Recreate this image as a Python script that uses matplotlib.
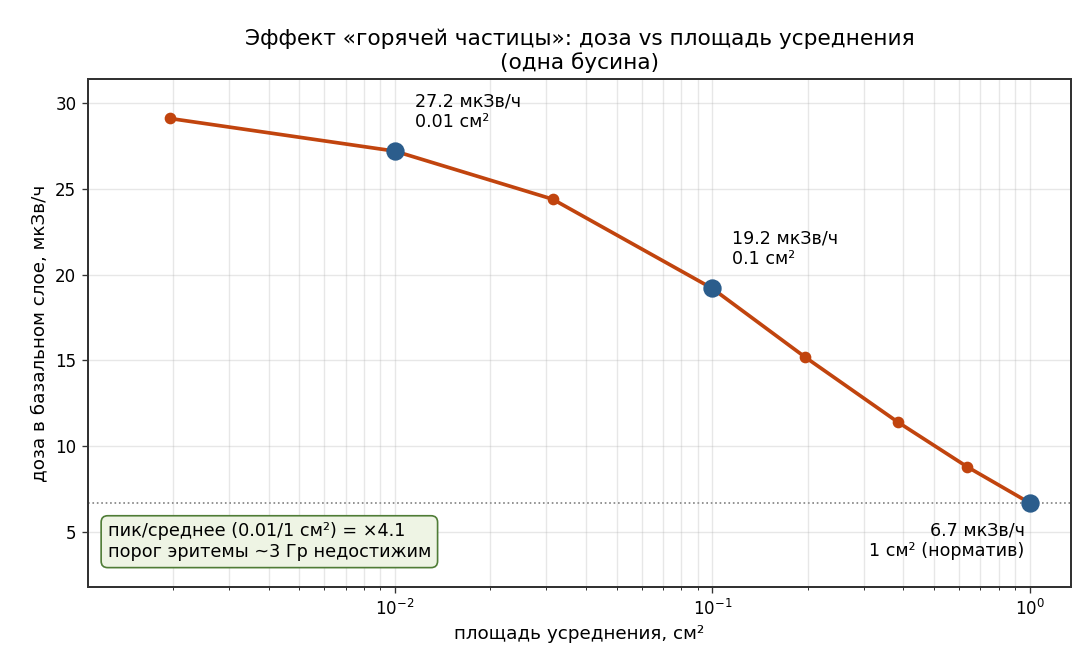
import numpy as np
import matplotlib
matplotlib.use('Agg')
import matplotlib.pyplot as plt

plt.rcParams['font.family'] = ['DejaVu Sans']

# Dose vs averaging area (single bead)
area_cm2 = [0.00196, 0.01, 0.0314, 0.1, 0.196, 0.385, 0.636, 1.0]
dose_usv = [29.1, 27.2, 24.4, 19.2, 15.2, 11.4, 8.8, 6.7]

key_area = [0.01, 0.1, 1.0]
key_dose = [27.2, 19.2, 6.7]
key_labels = ["27.2 мкЗв/ч\n0.01 см²", "19.2 мкЗв/ч\n0.1 см²", "6.7 мкЗв/ч\n1 см² (норматив)"]

line_color = '#c1440e'
key_color = '#2b5d8c'

fig, ax = plt.subplots(figsize=(9.1, 5.6), dpi=120)
fig.subplots_adjust(left=0.0806, right=0.9808, top=0.8824, bottom=0.1265)

ax.plot(area_cm2, dose_usv, '-o', color=line_color, lw=2.2, ms=6, zorder=3)
ax.plot(key_area, key_dose, 'o', color=key_color, ms=10, zorder=4)
ax.axhline(key_dose[-1], color='gray', ls=':', lw=1.0, zorder=1)

ax.set_xscale('log')
ax.set_xlim(1.08e-3, 1.35)
ax.set_ylim(1.8, 31.4)
ax.grid(True, which='both', alpha=0.3)
for s in ax.spines.values():
    s.set_color('#333333')
    s.set_linewidth(1.2)
ax.tick_params(which='both', color='#333333')

offsets = [(12, 12), (12, 12), (-3, -11)]
aligns = [('left', 'bottom'), ('left', 'bottom'), ('right', 'top')]
for x, y, lab, off, (ha, va) in zip(key_area, key_dose, key_labels, offsets, aligns):
    ax.annotate(lab, (x, y), xytext=off, textcoords='offset points',
                ha=ha, va=va, fontsize=10.5)

ax.text(0.02, 0.051, "пик/среднее (0.01/1 см²) = ×4.1\nпорог эритемы ~3 Гр недостижим",
        transform=ax.transAxes, fontsize=10.6, va='bottom', ha='left',
        bbox=dict(boxstyle='round,pad=0.37', facecolor='#eef4e4', edgecolor='#4f7c36'))

ax.set_xlabel("площадь усреднения, см²", fontsize=11)
ax.set_ylabel("доза в базальном слое, мкЗв/ч", fontsize=11)
ax.set_title("Эффект «горячей частицы»: доза vs площадь усреднения\n(одна бусина)", fontsize=13)

plt.savefig('out.png', dpi=120)
